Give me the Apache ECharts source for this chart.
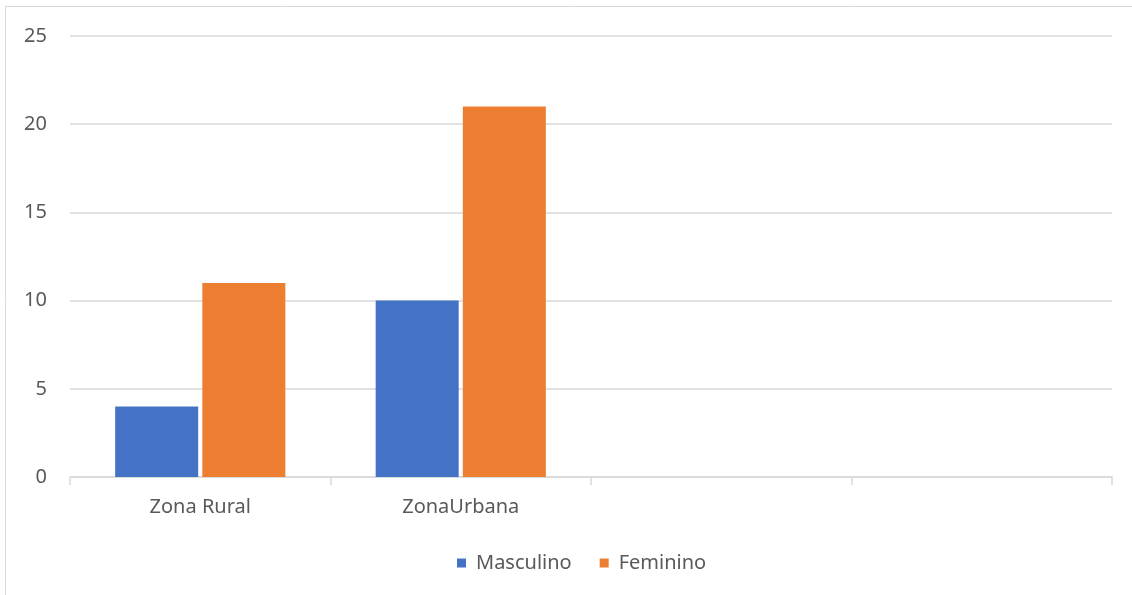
<!DOCTYPE html>
<html>
<head>
<meta charset="utf-8">
<script src="https://cdn.jsdelivr.net/npm/echarts@6/dist/echarts.min.js"></script>
<style>
    html, body { margin: 0; padding: 0; background: #fff; }
    #chart { width: 1132px; height: 595px; }
</style>
</head>
<body>
<div id="chart"></div>
<script>
var categories = ['Zona Rural', 'ZonaUrbana', '', ''];
var masculino = [4, 10, null, null];
var feminino = [11, 21, null, null];
var yTicks = { min: 0, max: 25, interval: 5 };

var chart = echarts.init(document.getElementById('chart'));
var textColor = '#595959';
var font = '"Noto Sans", "Open Sans", sans-serif';

var option = {
    animation: false,
    backgroundColor: '#fff',
    textStyle: { fontFamily: font },
    graphic: [{
        type: 'rect',
        shape: { x: 5.5, y: 6.5, width: 1140, height: 600 },
        style: { fill: 'none', stroke: '#d9d9d9', lineWidth: 1 },
        silent: true
    }],
    grid: { left: 70, right: 20, top: 36, bottom: 118 },
    legend: {
        left: 452,
        top: 548,
        icon: 'rect',
        itemWidth: 9,
        itemHeight: 9,
        itemGap: 28,
        textStyle: { color: textColor, fontSize: 20, fontFamily: font, padding: [0, 0, 0, 5] },
        data: ['Masculino', 'Feminino']
    },
    xAxis: {
        type: 'category',
        data: categories,
        axisLine: { lineStyle: { color: '#d9d9d9', width: 1.5 } },
        axisTick: { show: true, length: 8, lineStyle: { color: '#d9d9d9', width: 1.5 } },
        axisLabel: { color: textColor, fontSize: 20, margin: 20 },
        splitLine: { show: false }
    },
    yAxis: {
        type: 'value',
        min: yTicks.min,
        max: yTicks.max,
        interval: yTicks.interval,
        axisLine: { show: false },
        axisTick: { show: false },
        axisLabel: { color: textColor, fontSize: 20, margin: 23 },
        splitLine: { lineStyle: { color: '#d9d9d9', width: 1.5 } }
    },
    series: [{
        name: 'Masculino',
        type: 'bar',
        barWidth: 83,
        barGap: '5%',
        itemStyle: { color: '#4472c4' },
        data: masculino
    }, {
        name: 'Feminino',
        type: 'bar',
        barWidth: 83,
        itemStyle: { color: '#ed7d31' },
        data: feminino
    }]
};
chart.setOption(option);
</script>
</body>
</html>
